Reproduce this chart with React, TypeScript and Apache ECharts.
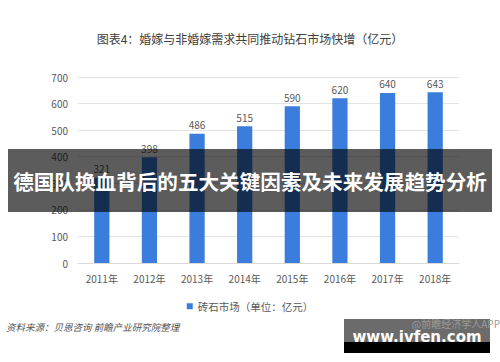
import React, { useEffect, useRef } from "react";
import * as echarts from "echarts";

const years = ["2011年", "2012年", "2013年", "2014年", "2015年", "2016年", "2017年", "2018年"];
const values = [321, 398, 486, 515, 590, 620, 640, 643];
const chartTitle = "图表4：婚嫁与非婚嫁需求共同推动钻石市场快增（亿元）";
const seriesName = "砖石市场（单位：亿元）";
const sourceText = "资料来源：贝恩咨询 前瞻产业研究院整理";
const bannerText = "德国队换血背后的五大关键因素及未来发展趋势分析";
const siteText = "www.ivfen.com";
const appText = "@前瞻经济学人APP";

export default function App() {
  const ref = useRef<HTMLDivElement>(null);
  useEffect(() => {
    if (!ref.current) return;
    const chart = echarts.init(ref.current, null, { renderer: "svg" });
    const font = "'Noto Sans CJK SC', 'Microsoft YaHei', sans-serif";
    chart.setOption({
      animation: false,
      backgroundColor: "#ffffff",
      textStyle: { fontFamily: font },
      title: {
        text: chartTitle,
        left: "center",
        top: 27,
        textStyle: { fontSize: 12, fontWeight: "normal", color: "#404040", fontFamily: font },
      },
      grid: { left: 78, right: 41, top: 77, bottom: 99 },
      legend: {
        data: [seriesName],
        top: 296,
        left: "center",
        icon: "rect",
        itemWidth: 6,
        itemHeight: 6,
        itemGap: 4,
        textStyle: { fontSize: 10.5, color: "#595959", fontFamily: font },
      },
      xAxis: {
        type: "category",
        data: years,
        axisLine: { lineStyle: { color: "#d9d9d9" } },
        axisTick: { show: false },
        axisLabel: { fontSize: 10, color: "#595959", margin: 10 },
      },
      yAxis: {
        type: "value",
        min: 0,
        max: 700,
        interval: 100,
        axisLine: { show: false },
        axisTick: { show: false },
        axisLabel: { fontSize: 10, color: "#595959", margin: 10 },
        splitLine: { lineStyle: { color: "#e3e3e3" } },
      },
      series: [
        {
          name: seriesName,
          type: "bar",
          data: values,
          barWidth: "32%",
          itemStyle: { color: "#3b7ddd" },
          label: { show: true, position: "top", distance: 4, fontSize: 10, color: "#595959" },
        },
      ],
      graphic: [
        {
          type: "text",
          left: 6,
          top: 322,
          style: { text: sourceText, fill: "#555555", font: `italic 9.5px ${font}` },
        },
        {
          type: "rect",
          z: 100,
          shape: { x: 8, y: 149, width: 484, height: 63 },
          style: { fill: "rgba(0,0,0,0.64)" },
        },
        {
          type: "text",
          z: 101,
          x: 250,
          y: 181,
          style: {
            text: bannerText,
            fill: "#ffffff",
            align: "center",
            verticalAlign: "middle",
            font: `bold 20.6px ${font}`,
          },
        },
        {
          type: "rect",
          z: 100,
          shape: { x: 344, y: 319, width: 146, height: 23 },
          style: { fill: "#6b6b6b" },
        },
        {
          type: "rect",
          z: 100,
          shape: { x: 344, y: 342, width: 146, height: 11 },
          style: { fill: "#000000" },
        },
        {
          type: "text",
          z: 101,
          x: 500,
          y: 318,
          style: { text: appText, fill: "#9a9a9a", align: "right", verticalAlign: "top", font: `10px ${font}` },
        },
        {
          type: "text",
          z: 102,
          x: 417,
          y: 337,
          style: {
            text: siteText,
            fill: "#ffffff",
            align: "center",
            verticalAlign: "middle",
            font: `bold 15px 'DejaVu Sans', sans-serif`,
          },
        },
      ],
    });
    return () => chart.dispose();
  }, []);
  return (
    <div
      ref={ref}
      style={{ position: "fixed", left: 0, top: 0, width: 500, height: 362 }}
    />
  );
}
